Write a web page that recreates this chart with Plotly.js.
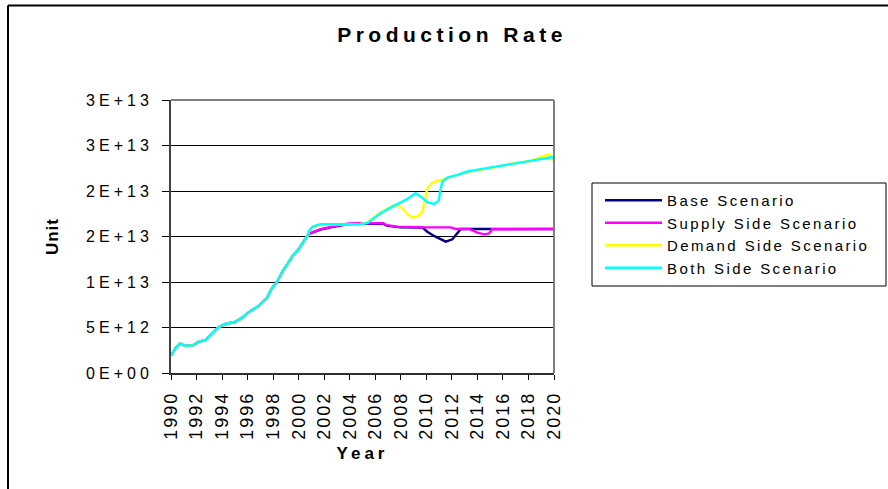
<!DOCTYPE html>
<html>
<head>
<meta charset="utf-8">
<script src="https://cdn.plot.ly/plotly-3.0.1.min.js"></script>
<style>
  html, body { margin: 0; padding: 0; background: #fff; }
  #chart { width: 888px; height: 489px; }
  .gtitle { letter-spacing: 4.5px; }
  .xtitle { letter-spacing: 4px; }
  .ytitle { letter-spacing: 1px; }
  .legendtext { letter-spacing: 2.4px; }
  .ytick text { letter-spacing: 4px; }
  .xtick text { letter-spacing: 2px; }
</style>
</head>
<body>
<div id="chart"></div>
<script>
// ---- data ----
var seriesNames = ["Base Scenario", "Supply Side Scenario", "Demand Side Scenario", "Both Side Scenario"];
var seriesColors = ["#000080", "#FF00FF", "#FFFF00", "#00FFFF"];

// shared history 1990-2000
var histYears = [1990, 1990.35, 1990.7, 1991.1, 1991.75, 1992.1, 1992.7, 1993.05, 1993.7, 1994.2, 1995.0, 1995.5, 1996.2, 1996.85, 1997.5, 1997.9, 1998.3, 1998.75, 1999.2, 1999.6, 2000.0, 2000.5, 2000.75];
var histVals = [1.9e12, 2.7e12, 3.24e12, 2.98e12, 3.05e12, 3.4e12, 3.6e12, 4.1e12, 5.0e12, 5.36e12, 5.6e12, 6.0e12, 6.8e12, 7.35e12, 8.2e12, 9.3e12, 10.0e12, 11.2e12, 12.2e12, 13.0e12, 13.6e12, 14.6e12, 15.2e12];

var baseYears = [2000.9, 2001.7, 2002.7, 2003.8, 2004.8, 2006.6, 2006.9, 2008.0, 2009.7, 2010.08, 2010.6, 2011.52, 2012.04, 2012.44, 2012.7, 2015.18, 2020];
var baseVals = [15.35e12, 15.75e12, 16.05e12, 16.35e12, 16.4e12, 16.4e12, 16.2e12, 16.0e12, 15.98e12, 15.53e12, 15.06e12, 14.43e12, 14.69e12, 15.35e12, 15.83e12, 15.83e12, 15.83e12];

var supplyYears = [2000.9, 2001.7, 2002.7, 2003.8, 2004.8, 2006.6, 2006.9, 2007.7, 2009.56, 2011.9, 2012.3, 2013.35, 2014.0, 2014.53, 2014.92, 2015.13, 2020];
var supplyVals = [15.35e12, 15.8e12, 16.1e12, 16.4e12, 16.45e12, 16.45e12, 16.25e12, 16.08e12, 16.01e12, 16.0e12, 15.83e12, 15.83e12, 15.42e12, 15.24e12, 15.35e12, 15.79e12, 15.83e12];

var demandYears = [2000.8, 2001.1, 2001.7, 2004.8, 2005.35, 2006.41, 2007.46, 2007.85, 2008.12, 2008.51, 2008.9, 2009.3, 2009.7, 2009.87, 2010.08, 2010.47, 2011.0, 2011.52, 2012.44, 2013.22, 2014.27, 2015.58, 2016.88, 2018.19, 2018.72, 2019.5, 2019.76, 2020];
var demandVals = [15.6e12, 16.05e12, 16.3e12, 16.35e12, 16.55e12, 17.65e12, 18.45e12, 18.4e12, 18.1e12, 17.48e12, 17.1e12, 17.18e12, 17.73e12, 18.83e12, 20.3e12, 20.93e12, 21.15e12, 21.4e12, 21.75e12, 22.1e12, 22.35e12, 22.65e12, 23.05e12, 23.3e12, 23.6e12, 23.97e12, 23.86e12, 23.24e12];

var bothYears = [2000.8, 2001.1, 2001.7, 2004.9, 2005.4, 2006.41, 2007.46, 2008.38, 2009.16, 2009.56, 2010.08, 2010.6, 2010.99, 2011.07, 2011.26, 2011.65, 2012.44, 2013.22, 2014.27, 2015.58, 2016.88, 2018.19, 2019.5, 2019.9, 2020];
var bothVals = [15.6e12, 16.1e12, 16.35e12, 16.35e12, 16.5e12, 17.55e12, 18.36e12, 19.02e12, 19.76e12, 19.38e12, 18.77e12, 18.58e12, 18.94e12, 19.93e12, 21.04e12, 21.48e12, 21.77e12, 22.14e12, 22.4e12, 22.69e12, 23.06e12, 23.35e12, 23.61e12, 23.72e12, 23.5e12];

var yTickVals = [0, 5e12, 1e13, 1.5e13, 2e13, 2.5e13, 3e13];
var yTickText = ["0E+00", "5E+12", "1E+13", "2E+13", "2E+13", "3E+13", "3E+13"];
var xTickVals = [1990, 1992, 1994, 1996, 1998, 2000, 2002, 2004, 2006, 2008, 2010, 2012, 2014, 2016, 2018, 2020];
var xTickText = ["1990", "1992", "1994", "1996", "1998", "2000", "2002", "2004", "2006", "2008", "2010", "2012", "2014", "2016", "2018", "2020"];

var tails = [[baseYears, baseVals], [supplyYears, supplyVals], [demandYears, demandVals], [bothYears, bothVals]];

var FONT = "Arial, 'Liberation Sans', sans-serif";

var traces = tails.map(function (t, i) {
  return {
    type: "scatter",
    mode: "lines",
    name: seriesNames[i],
    x: histYears.concat(t[0]),
    y: histVals.concat(t[1]),
    line: { color: seriesColors[i], width: 2.4 },
    hoverinfo: "skip"
  };
});

// plot area: x 171..554, y 100..373
var L = 171, R = 554, T = 100, B = 373, W = 888, H = 489;
function px(xp) { return (xp - L) / (R - L); }
function py(yp) { return (B - yp) / (B - T); }

var layout = {
  width: W,
  height: H,
  margin: { l: L, r: W - R, t: T, b: H - B, pad: 0 },
  paper_bgcolor: "#ffffff",
  plot_bgcolor: "#ffffff",
  font: { family: FONT, color: "#000000" },
  showlegend: true,
  title: {
    text: "Production Rate",
    font: { family: FONT, size: 21, weight: "bold", color: "#000" },
    xref: "container", yref: "container",
    x: 452 / W, y: 1 - 35 / H,
    xanchor: "center", yanchor: "middle"
  },
  xaxis: {
    range: [1990, 2020],
    tickmode: "array",
    tickvals: xTickVals,
    ticktext: xTickText,
    tickangle: -90,
    ticks: "outside",
    ticklen: 5,
    tickcolor: "#000",
    tickfont: { family: FONT, size: 18, color: "#000" },
    ticklabelstandoff: 5,
    showgrid: false,
    zeroline: false,
    showline: true,
    linecolor: "#303030",
    linewidth: 1.5,
    fixedrange: true,
    title: { text: "Year", font: { family: FONT, size: 17, weight: "bold", color: "#000" }, standoff: 8 }
  },
  yaxis: {
    range: [0, 3e13],
    tickmode: "array",
    tickvals: yTickVals,
    ticktext: yTickText,
    ticks: "outside",
    ticklen: 7,
    tickcolor: "#000",
    tickfont: { family: FONT, size: 16, color: "#000" },
    ticklabelstandoff: 6,
    showgrid: true,
    gridcolor: "#000000",
    gridwidth: 1,
    zeroline: false,
    showline: true,
    linecolor: "#404040",
    linewidth: 2,
    fixedrange: true,
    title: { text: "Unit", font: { family: FONT, size: 17, weight: "bold", color: "#000" }, standoff: 23 }
  },
  legend: {
    x: px(600), y: py(184),
    xanchor: "left", yanchor: "top",
    bgcolor: "rgba(0,0,0,0)",
    borderwidth: 0,
    font: { family: FONT, size: 15, color: "#000" },
    itemwidth: 57,
    tracegroupgap: 0,
    traceorder: "normal"
  },
  shapes: [
    // plot area frame top/right (grey)
    { type: "line", xref: "paper", yref: "paper", x0: 0, x1: 1, y0: 1, y1: 1, line: { color: "#808080", width: 2 } },
    { type: "line", xref: "paper", yref: "paper", x0: 1, x1: 1, y0: 0, y1: 1, line: { color: "#808080", width: 2 } },
    // legend box
    { type: "rect", xref: "paper", yref: "paper", x0: px(592), x1: px(886), y0: py(286), y1: py(183), line: { color: "#000", width: 1 }, fillcolor: "rgba(0,0,0,0)" },
    // outer chart frame (top and left edges)
    { type: "line", xref: "paper", yref: "paper", x0: px(8), x1: px(900), y0: py(5.5), y1: py(5.5), line: { color: "#000", width: 2 } },
    { type: "line", xref: "paper", yref: "paper", x0: px(8), x1: px(8), y0: py(5.5), y1: py(500), line: { color: "#000", width: 2 } }
  ]
};

Plotly.newPlot("chart", traces, layout, { displayModeBar: false, staticPlot: true });
</script>
</body>
</html>
